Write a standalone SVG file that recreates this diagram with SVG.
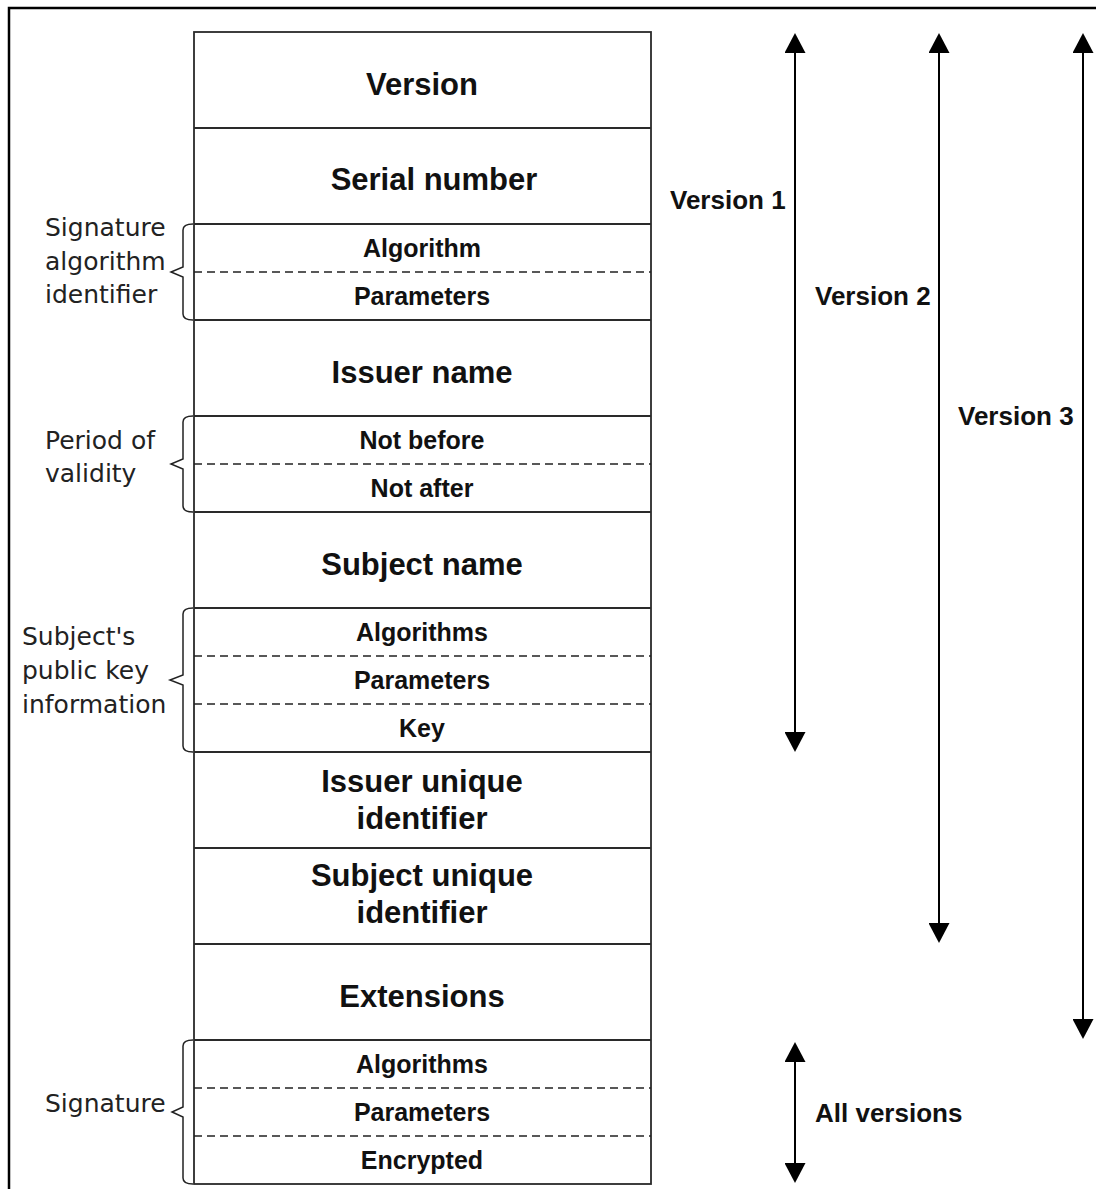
<svg xmlns="http://www.w3.org/2000/svg" width="1096" height="1189" viewBox="0 0 1096 1189">
<style>
  .frame{fill:none;stroke:#000;stroke-width:2.5}
  .box{fill:#fff;stroke:#2a2a2a;stroke-width:1.8}
  .sep{stroke:#2a2a2a;stroke-width:1.8}
  .dash{stroke:#222;stroke-width:1.6;stroke-dasharray:8 5}
  .big{font-family:"Liberation Sans",Arial,sans-serif;font-weight:bold;font-size:31px;fill:#111;text-anchor:middle}
  .sub{font-family:"Liberation Sans",Arial,sans-serif;font-weight:bold;font-size:25px;fill:#111;text-anchor:middle}
  .lbl{font-family:"DejaVu Sans","Liberation Sans",sans-serif;font-size:25px;fill:#222}
  .ver{font-family:"Liberation Sans",Arial,sans-serif;font-weight:bold;font-size:26px;fill:#111}
  .brace{fill:none;stroke:#222;stroke-width:1.5}
  .arr{stroke:#000;stroke-width:2;marker-start:url(#ah);marker-end:url(#ah)}
</style>
<defs>
  <marker id="ah" markerWidth="20" markerHeight="21" refX="0" refY="10.5" orient="auto-start-reverse" markerUnits="userSpaceOnUse" viewBox="0 0 20 21">
    <path d="M0,0 L20,10.5 L0,21 z" fill="#000"/>
  </marker>
</defs>
<rect class="frame" x="9" y="8" width="1100" height="1200"/>

<g id="certificate">
  <rect class="box" x="194" y="32" width="457" height="1152"/>
  <g id="separators">
    <line class="sep" x1="194" y1="128" x2="651" y2="128"/>
    <line class="sep" x1="194" y1="224" x2="651" y2="224"/>
    <line class="dash" x1="194" y1="272" x2="651" y2="272"/>
    <line class="sep" x1="194" y1="320" x2="651" y2="320"/>
    <line class="sep" x1="194" y1="416" x2="651" y2="416"/>
    <line class="dash" x1="194" y1="464" x2="651" y2="464"/>
    <line class="sep" x1="194" y1="512" x2="651" y2="512"/>
    <line class="sep" x1="194" y1="608" x2="651" y2="608"/>
    <line class="dash" x1="194" y1="656" x2="651" y2="656"/>
    <line class="dash" x1="194" y1="704" x2="651" y2="704"/>
    <line class="sep" x1="194" y1="752" x2="651" y2="752"/>
    <line class="sep" x1="194" y1="848" x2="651" y2="848"/>
    <line class="sep" x1="194" y1="944" x2="651" y2="944"/>
    <line class="sep" x1="194" y1="1040" x2="651" y2="1040"/>
    <line class="dash" x1="194" y1="1088" x2="651" y2="1088"/>
    <line class="dash" x1="194" y1="1136" x2="651" y2="1136"/>
  </g>
  <g id="field-version"><text class="big" x="422" y="95">Version</text></g>
  <g id="field-serial"><text class="big" x="434" y="190">Serial number</text></g>
  <g id="field-sigalg-algorithm"><text class="sub" x="422" y="257">Algorithm</text></g>
  <g id="field-sigalg-parameters"><text class="sub" x="422" y="305">Parameters</text></g>
  <g id="field-issuer"><text class="big" x="422" y="383">Issuer name</text></g>
  <g id="field-notbefore"><text class="sub" x="422" y="449">Not before</text></g>
  <g id="field-notafter"><text class="sub" x="422" y="497">Not after</text></g>
  <g id="field-subject"><text class="big" x="422" y="575">Subject name</text></g>
  <g id="field-pk-algorithms"><text class="sub" x="422" y="641">Algorithms</text></g>
  <g id="field-pk-parameters"><text class="sub" x="422" y="689">Parameters</text></g>
  <g id="field-pk-key"><text class="sub" x="422" y="737">Key</text></g>
  <g id="field-issuer-uid"><text class="big" x="422" y="792">Issuer unique</text><text class="big" x="422" y="829">identifier</text></g>
  <g id="field-subject-uid"><text class="big" x="422" y="886">Subject unique</text><text class="big" x="422" y="923">identifier</text></g>
  <g id="field-extensions"><text class="big" x="422" y="1007">Extensions</text></g>
  <g id="field-sig-algorithms"><text class="sub" x="422" y="1073">Algorithms</text></g>
  <g id="field-sig-parameters"><text class="sub" x="422" y="1121">Parameters</text></g>
  <g id="field-sig-encrypted"><text class="sub" x="422" y="1169">Encrypted</text></g>
</g>

<g id="group-labels">
  <g id="label-sigalg">
    <path class="brace" d="M193,224 Q183,224 183,230 L183,267 L171,272 L183,277 L183,314 Q183,320 193,320"/>
    <text class="lbl" x="45" y="236">Signature</text>
    <text class="lbl" x="45" y="270">algorithm</text>
    <text class="lbl" x="45" y="303">identifier</text>
  </g>
  <g id="label-validity">
    <path class="brace" d="M193,416 Q183,416 183,422 L183,459 L171,464 L183,469 L183,506 Q183,512 193,512"/>
    <text class="lbl" x="45" y="449">Period of</text>
    <text class="lbl" x="45" y="482">validity</text>
  </g>
  <g id="label-pubkey">
    <path class="brace" d="M193,608 Q183,608 183,614 L183,675 L170,680 L183,685 L183,746 Q183,752 193,752"/>
    <text class="lbl" x="22" y="645">Subject's</text>
    <text class="lbl" x="22" y="679">public key</text>
    <text class="lbl" x="22" y="713">information</text>
  </g>
  <g id="label-signature">
    <path class="brace" d="M193,1040 Q183,1040 183,1046 L183,1107 L172,1112 L183,1117 L183,1178 Q183,1184 193,1184"/>
    <text class="lbl" x="45" y="1112">Signature</text>
  </g>
</g>

<g id="connectors">
  <line class="arr" x1="795" y1="53" x2="795" y2="732"/>
  <line class="arr" x1="939" y1="53" x2="939" y2="923"/>
  <line class="arr" x1="1083" y1="53" x2="1083" y2="1019"/>
  <line class="arr" x1="795" y1="1062" x2="795" y2="1163"/>
</g>

<g id="version-labels">
  <text class="ver" x="670" y="209">Version 1</text>
  <text class="ver" x="815" y="305">Version 2</text>
  <text class="ver" x="958" y="425">Version 3</text>
  <text class="ver" x="815" y="1122">All versions</text>
</g>
</svg>
